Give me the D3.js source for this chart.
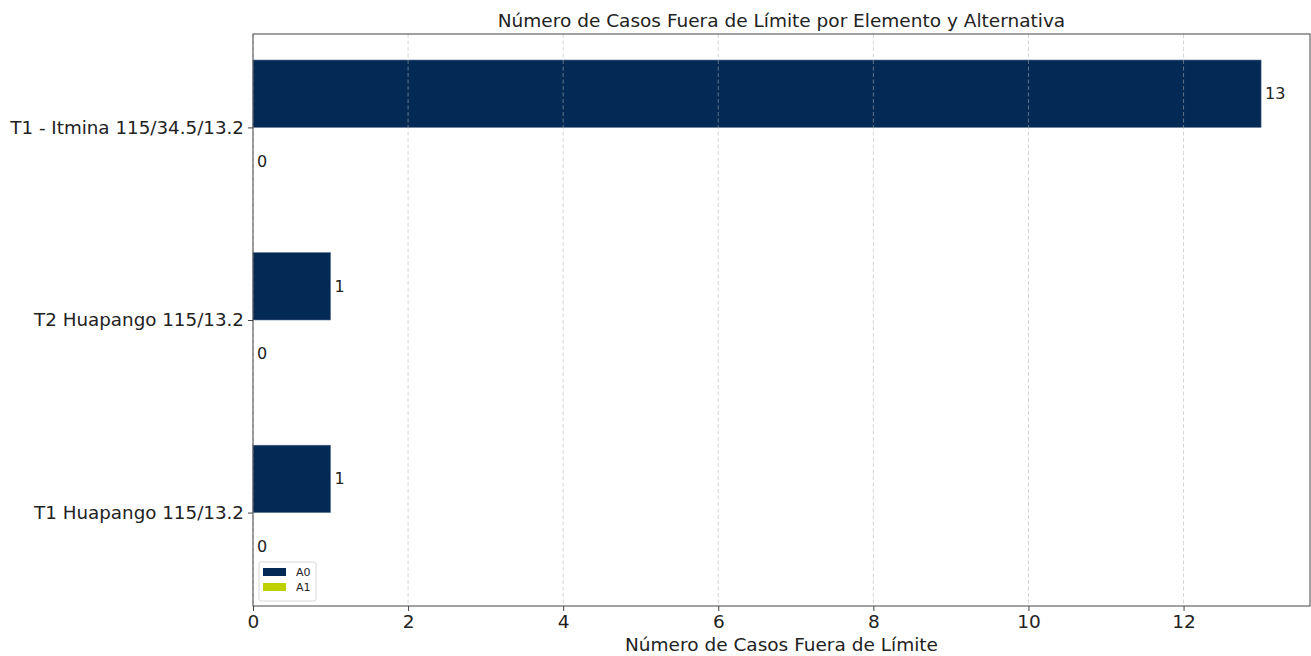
<!DOCTYPE html>
<html><head><meta charset="utf-8">
<script src="https://cdn.jsdelivr.net/npm/d3@7"></script>
<style>body{margin:0;background:#fff;} text{font-family:"DejaVu Sans",sans-serif;}</style>
</head><body>
<svg id="c" width="1311" height="656"></svg>
<script>
const categories = ["T1 Huapango 115/13.2", "T2 Huapango 115/13.2", "T1 - Itmina 115/34.5/13.2"];
const seriesNames = ["A0", "A1"];
const seriesA0 = [1, 1, 13];
const seriesA1 = [0, 0, 0];
const xTicks = [0, 2, 4, 6, 8, 10, 12];
const colors = ["#032a55", "#bfd000"];

const svg = d3.select("#c");
const L = 253, R = 1311.5, T = 34, B = 606;
const barH = 0.35;
const x = d3.scaleLinear().domain([0, 13 * 1.05]).range([L, R]);
const y = d3.scaleLinear().domain([-0.35 - 0.135, 2.35 + 0.135]).range([B, T]);

// bars
const series = [seriesA0, seriesA1];
series.forEach((vals, s) => {
  const off = s === 0 ? barH / 2 : -barH / 2;
  svg.append("g").selectAll("rect").data(vals).join("rect")
    .attr("x", x(0))
    .attr("y", (d, i) => y(i + off + barH / 2))
    .attr("width", d => x(d) - x(0))
    .attr("height", (d, i) => y(i + off - barH / 2) - y(i + off + barH / 2))
    .attr("fill", colors[s])
    .attr("stroke", d => d > 0 ? "#5a7396" : "none")
    .attr("stroke-width", 0.6);
  svg.append("g").selectAll("text").data(vals).join("text")
    .attr("x", d => x(d) + 4)
    .attr("y", (d, i) => y(i + off))
    .attr("dy", "0.35em")
    .attr("font-size", 16)
    .attr("fill", "#222")
    .text(d => d);
});

// grid
svg.append("g").selectAll("line").data(xTicks).join("line")
  .attr("x1", d => x(d)).attr("x2", d => x(d))
  .attr("y1", T).attr("y2", B)
  .attr("stroke", "#b0b0b0").attr("stroke-opacity", 0.6)
  .attr("stroke-dasharray", "4,2.5").attr("stroke-width", 0.9);

// frame
svg.append("rect").attr("x", L).attr("y", T).attr("width", 1310 - L).attr("height", B - T)
  .attr("fill", "none").attr("stroke", "#444").attr("stroke-width", 1);

// x axis
const xa = svg.append("g").attr("transform", `translate(0,${B})`)
  .call(d3.axisBottom(x).tickValues(xTicks).tickSize(5).tickPadding(4).tickFormat(d3.format("d")));
xa.select(".domain").remove();
xa.selectAll("line").attr("stroke", "#444");
xa.selectAll("text").attr("font-size", 18.5).attr("fill", "#222").attr("font-family", "DejaVu Sans");

// y axis
const ya = svg.append("g").attr("transform", `translate(${L},0)`)
  .call(d3.axisLeft(y).tickValues([0, 1, 2]).tickSize(5).tickPadding(4).tickFormat(i => categories[i]));
ya.select(".domain").remove();
ya.selectAll("line").attr("stroke", "#444");
ya.selectAll("text").attr("font-size", 18.3).attr("fill", "#222").attr("font-family", "DejaVu Sans");

// title & label
svg.append("text").attr("x", (L + 1310) / 2).attr("y", 27).attr("text-anchor", "middle")
  .attr("font-size", 18.5).attr("fill", "#222").text("Número de Casos Fuera de Límite por Elemento y Alternativa");
svg.append("text").attr("x", (L + 1310) / 2).attr("y", 651).attr("text-anchor", "middle")
  .attr("font-size", 18.5).attr("fill", "#222").text("Número de Casos Fuera de Límite");

// legend
const lg = svg.append("g").attr("transform", `translate(259,562)`);
lg.append("rect").attr("width", 57).attr("height", 39).attr("rx", 2)
  .attr("fill", "#fff").attr("fill-opacity", 0.8).attr("stroke", "#d8d8d8");
seriesNames.forEach((n, i) => {
  lg.append("rect").attr("x", 4).attr("y", 6 + i * 15).attr("width", 23).attr("height", 8).attr("fill", colors[i]);
  lg.append("text").attr("x", 37).attr("y", 10 + i * 15).attr("dy", "0.35em")
    .attr("font-size", 11).attr("fill", "#222").text(n);
});
</script>
</body></html>
